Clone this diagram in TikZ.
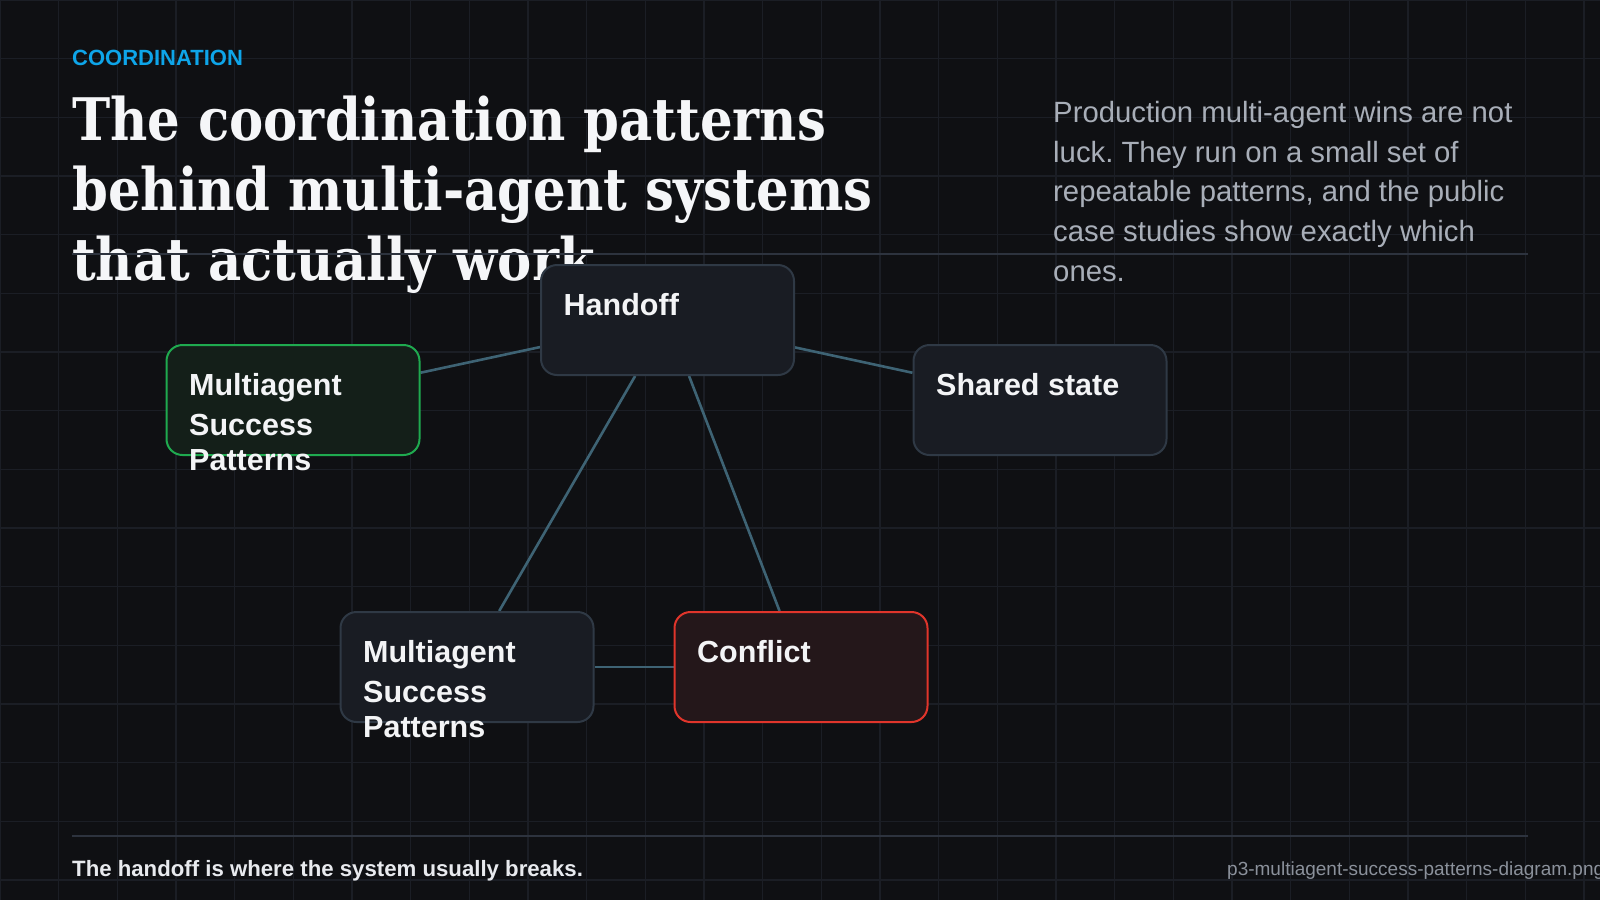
\documentclass[tikz,border=0pt]{standalone}
\usepackage{fontspec}
\setmainfont{Liberation Sans}
\newfontfamily\titlefont[FakeStretch=0.875]{DejaVu Serif}
\usetikzlibrary{calc}
\frenchspacing
\pgfdeclarelayer{bg}
\pgfdeclarelayer{edgel}
\pgfsetlayers{bg,edgel,main}
\definecolor{bgc}{HTML}{0F1013}
\definecolor{gridc}{HTML}{1B1E25}
\definecolor{kicker}{HTML}{0EA5E9}
\definecolor{titlec}{HTML}{F5F6F8}
\definecolor{parac}{HTML}{A8AEB8}
\definecolor{rulec}{HTML}{2D333E}
\definecolor{nodefill}{HTML}{191C23}
\definecolor{nodeline}{HTML}{2F3945}
\definecolor{greenfill}{HTML}{141F19}
\definecolor{greenline}{HTML}{1FAA4F}
\definecolor{redfill}{HTML}{24171A}
\definecolor{redline}{HTML}{E0352B}
\definecolor{edgec}{HTML}{3E6374}
\definecolor{labelc}{HTML}{F3F4F6}
\definecolor{footc}{HTML}{E8EAEE}
\definecolor{filec}{HTML}{8B919B}
\tikzset{
  gridl/.style={draw=gridc, line width=1.3pt},
  rulel/.style={draw=rulec, line width=2pt},
  box/.style={draw=nodeline, fill=nodefill, line width=2pt, rounded corners=16pt,
    minimum width=253pt, minimum height=110pt, inner sep=0pt},
  greenbox/.style={box, draw=greenline, fill=greenfill},
  redbox/.style={box, draw=redline, fill=redfill},
  lbl/.style={anchor=base west, inner sep=0pt, text=labelc, align=left,
    font=\bfseries\fontsize{30.5}{40}\selectfont},
  edge/.style={draw=edgec, line width=2.6pt}
}
\begin{document}
\begin{tikzpicture}[x=1pt,y=-1pt]
\useasboundingbox (0,0) rectangle (1600,900);
\clip (0,0) rectangle (1600,900);
\begin{pgfonlayer}{bg}
\fill[bgc] (0,0) rectangle (1600,900);
\foreach \i in {0,...,27} \draw[gridl] ({\i*58.6667},0) -- ({\i*58.6667},900);
\foreach \j in {0,...,15} \draw[gridl] (0,{\j*58.6667}) -- (1600,{\j*58.6667});
% header (base anchor = baseline of the last line)
\node[anchor=base west, inner sep=0pt, text=kicker, font=\bfseries\fontsize{22}{26}\selectfont] (kick) at (72,65.7) {COORDINATION};
\node[anchor=base west, inner sep=0pt, text=titlec, align=left,
  font=\titlefont\bfseries\fontsize{58.67}{70.4}\selectfont] (title) at (72,280.8)
  {The coordination patterns\\behind multi-agent systems\\that actually work};
\node[anchor=base west, inner sep=0pt, text=parac, align=left,
  font=\fontsize{29.3}{39.8}\selectfont] (para) at (1053,281.5)
  {Production multi-agent wins are not\\luck. They run on a small set of\\repeatable patterns, and the public\\case studies show exactly which\\ones.};
\draw[rulel] (72,254) -- (1528,254);
% footer
\draw[rulel] (72,835.7) -- (1528,835.7);
\node[anchor=base west, inner sep=0pt, text=footc, font=\bfseries\fontsize{22.2}{26}\selectfont] (foot) at (72,876.5) {The handoff is where the system usually breaks.};
\node[anchor=base west, inner sep=0pt, text=filec, font=\fontsize{19}{22}\selectfont] (file) at (1227,875) {p3-multiagent-success-patterns-diagram.png};
\end{pgfonlayer}

% nodes
\node[box] (hand) at (667.5,320) {};
\node[greenbox] (msp1) at (293,400) {};
\node[box] (shared) at (1040,400) {};
\node[box] (msp2) at (467,667) {};
\node[redbox] (conf) at (801,667) {};

% edges (behind nodes)
\begin{pgfonlayer}{edgel}
\draw[edge] (msp1) -- (hand);
\draw[edge] (hand) -- (shared);
\draw[edge] (hand) -- (msp2);
\draw[edge] (hand) -- (conf);
\draw[edge] (msp2) -- (conf);
\end{pgfonlayer}

\node[lbl] (handl) at ($(hand.north west)+(23.5,51)$) {Handoff};
\node[lbl] (msp1l) at ($(msp1.north west)+(23.5,126)$) {Multiagent\\Success\\[-5pt]Patterns};
\node[lbl] (sharedl) at ($(shared.north west)+(23.5,51)$) {Shared state};
\node[lbl] (msp2l) at ($(msp2.north west)+(23.5,126)$) {Multiagent\\Success\\[-5pt]Patterns};
\node[lbl] (confl) at ($(conf.north west)+(23.5,51)$) {Conflict};
\end{tikzpicture}
\end{document}
